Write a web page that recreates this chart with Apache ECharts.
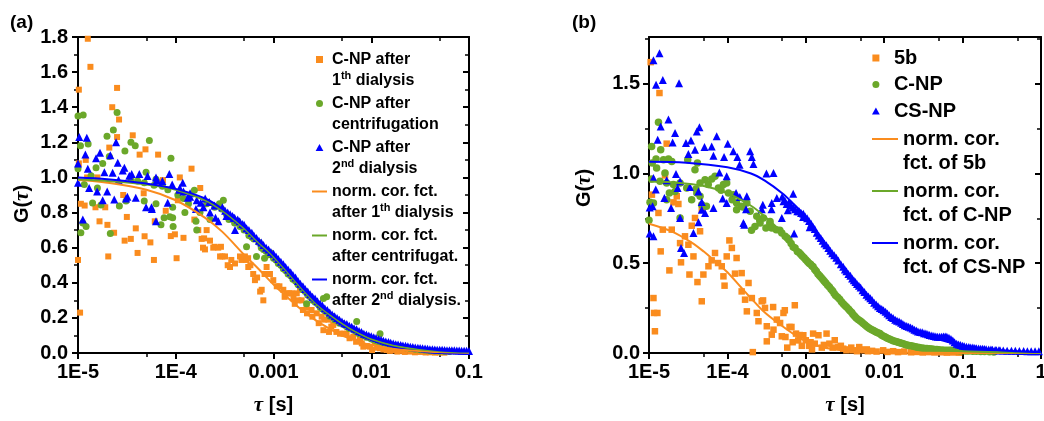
<!DOCTYPE html>
<html><head><meta charset="utf-8">
<script src="https://cdn.jsdelivr.net/npm/echarts@6/dist/echarts.min.js"></script>
<style>html,body{margin:0;padding:0;background:#fff}#c{width:1044px;height:421px}</style>
</head><body><div id="c"></div>
<script>
const FONT = 'Liberation Sans, Arial, sans-serif';
const ORANGE = '#FA8C1E', GREEN = '#6BA82A', BLUE = '#0000FF';

// ---- tick labels ----
const xTickLabelsA = ['1E-5', '1E-4', '0.001', '0.01', '0.1'];
const xTickLabelsB = ['1E-5', '1E-4', '0.001', '0.01', '0.1', '1'];
const xMinorTicksA = [5e-5, 5e-4, 5e-3, 5e-2];
const xMinorTicksB = [5e-5, 5e-4, 5e-3, 5e-2, 5e-1];
const yTicksB = [0, 0.5, 1.0, 1.5];
const yMinorTicksB = [0.25, 0.75, 1.25, 1.75];

// ---- series names / legend texts ----
const namesA = ['C-NP after 1th dialysis', 'C-NP after centrifugation', 'C-NP after 2nd dialysis',
  'norm. cor. fct. after 1th dialysis', 'norm. cor. fct. after centrifugat.', 'norm. cor. fct. after 2nd dialysis.'];
const legendTextA = [
  '{n|C-NP after}\n{n|1}{s|th}{n| dialysis}',
  '{n|C-NP after}\n{n|centrifugation}',
  '{n|C-NP after}\n{n|2}{s|nd}{n| dialysis}',
  '{n|norm. cor. fct.}\n{n|after 1}{s|th}{n| dialysis}',
  '{n|norm. cor. fct.}\n{n|after centrifugat.}',
  '{n|norm. cor. fct.}\n{n|after 2}{s|nd}{n| dialysis.}'];
const namesB = ['5b', 'C-NP', 'CS-NP', 'norm. cor. fct. of 5b', 'norm. cor. fct. of C-NP', 'norm. cor. fct. of CS-NP'];
const legendTextB = ['{n|5b}', '{n|C-NP}', '{n|CS-NP}', '{n|norm. cor.}\n{n|fct. of 5b}', '{n|norm. cor.}\n{n|fct. of C-NP}', '{n|norm. cor.}\n{n|fct. of CS-NP}'];

// ---- panel (a) data: [tau (s), G] ----
const dataA_1th = [
[1.0e-5,0.53],[1.02e-5,1.50],[1.02e-5,1.08],[1.05e-5,0.23],[1.07e-5,0.85],[1.17e-5,0.84],[1.2e-5,1.10],[1.24e-5,1.00],[1.26e-5,1.79],[1.34e-5,1.63],
[1.51e-5,0.83],[1.58e-5,1.00],[1.66e-5,0.75],[1.9e-5,0.83],[2.0e-5,0.73],[2.04e-5,0.55],[2.09e-5,1.17],[2.24e-5,1.40],[2.34e-5,0.685],[2.51e-5,1.51],
[2.51e-5,1.23],[2.63e-5,1.33],[2.9e-5,0.90],[3.0e-5,0.64],[3.16e-5,0.775],[3.47e-5,0.65],[3.63e-5,1.24],[3.9e-5,0.71],[4.07e-5,0.57],[4.27e-5,1.13],
[4.7e-5,0.91],[4.8e-5,0.665],[4.9e-5,1.16],[5.5e-5,0.63],[5.98e-5,0.53],[6.1e-5,0.75],[6.4e-5,0.975],[6.6e-5,1.13],[7.4e-5,0.985],[7.9e-5,0.81],
[8.9e-5,0.666],[9.8e-5,0.676],[1.02e-4,0.54],[1.05e-4,0.87],[1.1e-4,1.0],[1.2e-4,0.656],[1.45e-4,1.05],[1.55e-4,0.76],[1.7e-4,0.70],[1.78e-4,0.94],
[1.84e-4,0.65],[1.9e-4,0.60],[1.95e-4,0.653],[1.99e-4,0.59],[2.07e-4,0.70],[2.24e-4,0.64],[2.42e-4,0.60],[2.5e-4,0.605],[2.72e-4,0.60],[2.84e-4,0.55],
[2.9e-4,0.605],[3.0e-4,0.55],[3.19e-4,0.55],[3.4e-4,0.50],[3.59e-4,0.49],[3.7e-4,0.53],[4.04e-4,0.51],[4.54e-4,0.55],[4.7e-4,0.53],[5.1e-4,0.55],
[5.24e-4,0.53],[5.52e-4,0.49],[5.5e-4,0.54],[5.8e-4,0.50],[6.2e-4,0.45],[6.46e-4,0.415],[6.8e-4,0.43],[7.3e-4,0.35],[7.57e-4,0.36],[7.87e-4,0.30],
[8.1e-4,0.45],[8.5e-4,0.49],[9.2e-4,0.45],[9.95e-4,0.415],[1.08e-3,0.38],[1.15e-3,0.38],[1.26e-3,0.36],[1.3e-3,0.32],[1.36e-3,0.34],[1.45e-3,0.34],
[1.53e-3,0.34],[1.6e-3,0.31],[1.65e-3,0.28],[1.73e-3,0.34],[1.8e-3,0.30],[1.87e-3,0.36],[1.94e-3,0.30],[2.0e-3,0.245],[2.18e-3,0.26],[2.2e-3,0.226],
[2.45e-3,0.245],[2.5e-3,0.207],[2.77e-3,0.226],[2.9e-3,0.17],[3.11e-3,0.207],[3.24e-3,0.13],[3.3e-3,0.19],[3.64e-3,0.19],[3.7e-3,0.12],[3.9e-3,0.15],
[4.09e-3,0.16],[4.4e-3,0.12],[4.79e-3,0.11],[5.2e-3,0.11],[5.6e-3,0.11],[6.0e-3,0.084],[6.55e-3,0.093],[7.0e-3,0.064],[7.67e-3,0.074],[8.0e-3,0.055],
[8.3e-3,0.036],[9.0e-3,0.04],[9.7e-3,0.036],[1.02e-2,0.017],[1.09e-2,0.055],[1.15e-2,0.03],[1.23e-2,0.027],[1.33e-2,0.02],[1.44e-2,0.017],[1.55e-2,0.012],
[1.7e-2,0.015],[1.85e-2,0.008],[2.0e-2,0.012],[2.2e-2,0.006],[2.5e-2,0.008],[2.8e-2,0.004],[3.2e-2,0.006],[3.6e-2,0.003],[4.0e-2,0.004],[4.5e-2,0.002],
[5.0e-2,0.003],[5.6e-2,0.002]];

const dataA_centr = [
[1.0e-5,1.35],[1.0e-5,1.05],[1.06e-5,1.18],[1.07e-5,0.685],[1.12e-5,0.74],[1.13e-5,1.355],[1.16e-5,0.96],[1.21e-5,0.72],[1.27e-5,1.19],[1.36e-5,1.01],
[1.41e-5,0.855],[1.53e-5,1.055],[1.58e-5,0.94],[1.72e-5,0.843],[1.79e-5,1.08],[1.98e-5,1.235],[2.09e-5,1.12],[2.14e-5,0.68],[2.3e-5,1.27],[2.51e-5,1.37],
[2.65e-5,0.837],[3.02e-5,1.15],[3.1e-5,0.866],[3.48e-5,1.20],[3.48e-5,0.99],[3.85e-5,1.18],[4.07e-5,0.98],[4.76e-5,0.866],[4.76e-5,0.97],[4.97e-5,1.03],
[5.37e-5,1.21],[6.0e-5,0.955],[6.28e-5,0.85],[6.28e-5,0.99],[7.06e-5,0.73],[7.3e-5,0.95],[7.6e-5,0.77],[8.3e-5,0.93],[8.7e-5,0.776],[8.93e-5,1.11],
[9.3e-5,0.83],[9.3e-5,0.77],[9.4e-5,0.72],[1.05e-4,0.90],[1.2e-4,0.88],[1.24e-4,0.80],[1.35e-4,0.85],[1.55e-4,0.927],[1.61e-4,0.75],[1.64e-4,0.70],
[1.77e-4,0.80],[2.07e-4,0.85],[2.24e-4,0.76],[2.5e-4,0.83],[2.8e-4,0.85],[2.95e-4,0.82],[3.07e-4,0.87],[3.3e-4,0.79],[3.5e-4,0.76],[3.9e-4,0.76],
[4.0e-4,0.74],[4.3e-4,0.75],[4.54e-4,0.72],[5.0e-4,0.70],[5.3e-4,0.605],[5.6e-4,0.67],[6.0e-4,0.66],[6.3e-4,0.65],[6.7e-4,0.55],[7.1e-4,0.63],
[7.5e-4,0.60],[7.9e-4,0.59],[8.1e-4,0.54],[8.4e-4,0.58],[8.9e-4,0.56],[9.4e-4,0.57],[1.0e-3,0.54],[1.06e-3,0.53],[1.12e-3,0.51],[1.19e-3,0.50],
[1.26e-3,0.48],[1.33e-3,0.47],[1.41e-3,0.45],[1.5e-3,0.44],[1.58e-3,0.42],[1.68e-3,0.41],[1.78e-3,0.39],[1.88e-3,0.38],[2.0e-3,0.36],[2.11e-3,0.35],
[2.18e-3,0.28],[2.24e-3,0.33],[2.37e-3,0.32],[2.51e-3,0.30],[2.66e-3,0.29],[2.82e-3,0.28],[3.0e-3,0.26],[3.16e-3,0.25],[3.24e-3,0.31],[3.35e-3,0.24],
[3.5e-3,0.32],[3.55e-3,0.23],[3.76e-3,0.21],[3.98e-3,0.21],[4.22e-3,0.19],[4.47e-3,0.19],[4.73e-3,0.17],[5.01e-3,0.17],[5.31e-3,0.16],[5.62e-3,0.15],
[5.96e-3,0.14],[6.31e-3,0.14],[6.68e-3,0.13],[7.08e-3,0.12],[7.1e-3,0.18],[7.5e-3,0.11],[7.94e-3,0.11],[8.41e-3,0.10],[8.91e-3,0.09],[9.44e-3,0.09],
[1.0e-2,0.08],[1.06e-2,0.075],[1.12e-2,0.07],[1.19e-2,0.066],[1.23e-2,0.11],[1.26e-2,0.062],[1.33e-2,0.058],[1.41e-2,0.054],[1.5e-2,0.05],[1.58e-2,0.047],
[1.68e-2,0.044],[1.78e-2,0.04],[1.88e-2,0.037],[2.0e-2,0.035],[2.24e-2,0.03],[2.51e-2,0.026],[2.82e-2,0.022],[3.16e-2,0.018],[3.55e-2,0.015],[3.98e-2,0.013],
[4.47e-2,0.011],[5.01e-2,0.01],[5.62e-2,0.009],[6.31e-2,0.008]];

const dataA_2nd = [
[1.0e-5,1.08],[1.0e-5,0.97],[1.03e-5,1.23],[1.12e-5,0.76],[1.19e-5,1.13],[1.23e-5,1.226],[1.26e-5,1.05],[1.3e-5,0.94],[1.53e-5,1.11],[1.57e-5,0.92],
[1.68e-5,1.14],[1.79e-5,0.87],[1.86e-5,1.03],[1.99e-5,0.92],[2.14e-5,1.126],[2.26e-5,1.027],[2.35e-5,0.875],[2.45e-5,1.20],[2.55e-5,1.084],[2.6e-5,0.985],
[2.87e-5,1.04],[2.98e-5,1.055],[3.1e-5,0.88],[3.2e-5,0.89],[3.35e-5,1.01],[3.54e-5,1.02],[3.9e-5,0.885],[4.24e-5,1.02],[4.97e-5,0.83],[5.15e-5,1.008],
[5.65e-5,0.83],[5.7e-5,0.82],[6.28e-5,1.0],[6.28e-5,0.75],[6.4e-5,0.985],[7.3e-5,0.98],[8.27e-5,0.856],[8.59e-5,1.02],[9.2e-5,0.96],[1.09e-4,0.93],
[1.1e-4,0.94],[1.18e-4,0.97],[1.2e-4,0.92],[1.33e-4,0.885],[1.4e-4,0.89],[1.4e-4,0.91],[1.61e-4,0.82],[1.64e-4,0.87],[1.8e-4,0.856],[1.92e-4,0.83],
[2.0e-4,0.88],[2.2e-4,0.86],[2.24e-4,0.80],[2.5e-4,0.84],[2.55e-4,0.77],[2.73e-4,0.75],[3.0e-4,0.83],[3.2e-4,0.81],[3.3e-4,0.78],[3.4e-4,0.80],
[3.6e-4,0.79],[3.8e-4,0.78],[3.9e-4,0.77],[4.0e-4,0.77],[4.04e-4,0.70],[4.3e-4,0.76],[4.5e-4,0.75],[4.8e-4,0.735],[5.0e-4,0.73],[5.3e-4,0.71],
[5.6e-4,0.70],[6.0e-4,0.685],[6.3e-4,0.67],[6.7e-4,0.655],[7.1e-4,0.64],[7.5e-4,0.63],[7.9e-4,0.615],[8.4e-4,0.60],[8.9e-4,0.59],[9.4e-4,0.575],
[1.0e-3,0.565],[1.06e-3,0.55],[1.12e-3,0.535],[1.19e-3,0.52],[1.26e-3,0.505],[1.33e-3,0.49],[1.41e-3,0.475],[1.5e-3,0.46],[1.58e-3,0.445],[1.68e-3,0.43],
[1.78e-3,0.41],[1.88e-3,0.395],[2.0e-3,0.38],[2.11e-3,0.365],[2.24e-3,0.35],[2.37e-3,0.335],[2.51e-3,0.32],[2.66e-3,0.31],[2.82e-3,0.295],[3.0e-3,0.28],
[3.16e-3,0.27],[3.35e-3,0.255],[3.55e-3,0.245],[3.76e-3,0.23],[3.98e-3,0.22],[4.22e-3,0.21],[4.47e-3,0.20],[4.73e-3,0.19],[5.01e-3,0.18],[5.31e-3,0.17],
[5.62e-3,0.165],[5.96e-3,0.155],[6.31e-3,0.15],[6.68e-3,0.14],[7.08e-3,0.135],[7.5e-3,0.125],[7.94e-3,0.12],[8.41e-3,0.11],[8.91e-3,0.105],[9.44e-3,0.10],
[1.0e-2,0.095],[1.06e-2,0.09],[1.12e-2,0.085],[1.19e-2,0.08],[1.26e-2,0.075],[1.33e-2,0.07],[1.41e-2,0.066],[1.5e-2,0.062],[1.58e-2,0.058],[1.68e-2,0.054],
[1.78e-2,0.05],[1.88e-2,0.048],[2.0e-2,0.046],[2.11e-2,0.043],[2.24e-2,0.041],[2.37e-2,0.038],[2.51e-2,0.036],[2.66e-2,0.034],[2.82e-2,0.032],[3.0e-2,0.03],
[3.16e-2,0.028],[3.35e-2,0.027],[3.55e-2,0.025],[3.76e-2,0.024],[3.98e-2,0.022],[4.22e-2,0.021],[4.47e-2,0.02],[4.73e-2,0.019],[5.01e-2,0.018],[5.31e-2,0.018],
[5.62e-2,0.017],[5.96e-2,0.016],[6.31e-2,0.016],[6.68e-2,0.015],[7.08e-2,0.015],[7.5e-2,0.014],[7.94e-2,0.014],[8.41e-2,0.013],[8.91e-2,0.013],[9.44e-2,0.013],
[1.0e-1,0.012]];

const fitA_1th = [[1e-5,0.985],[2e-5,0.97],[5e-5,0.93],[1e-4,0.87],[2e-4,0.77],[3e-4,0.69],[5e-4,0.56],[7e-4,0.48],[1e-3,0.39],[1.5e-3,0.30],
[2e-3,0.24],[3e-3,0.17],[5e-3,0.10],[7e-3,0.07],[1e-2,0.045],[2e-2,0.018],[5e-2,0.005],[0.1,0.002]];
const fitA_centr = [[1e-5,0.99],[2e-5,0.98],[5e-5,0.96],[1e-4,0.93],[2e-4,0.87],[3e-4,0.81],[5e-4,0.71],[7e-4,0.63],[1e-3,0.55],[1.5e-3,0.44],
[2e-3,0.36],[3e-3,0.26],[5e-3,0.17],[7e-3,0.12],[1e-2,0.08],[2e-2,0.035],[5e-2,0.01],[0.1,0.004]];
const fitA_2nd = [[1e-5,1.0],[2e-5,0.99],[5e-5,0.965],[1e-4,0.935],[2e-4,0.88],[3e-4,0.82],[5e-4,0.72],[7e-4,0.64],[1e-3,0.56],[1.5e-3,0.45],
[2e-3,0.37],[3e-3,0.27],[5e-3,0.18],[7e-3,0.13],[1e-2,0.09],[2e-2,0.045],[5e-2,0.016],[0.1,0.008]];

// ---- panel (b) data ----
const dataB_5b = [
[1.05e-5,1.62],[1.09e-5,0.882],[1.14e-5,0.306],[1.16e-5,0.223],[1.19e-5,0.121],[1.28e-5,0.223],[1.32e-5,0.78],[1.36e-5,1.448],[1.41e-5,0.566],[1.5e-5,0.687],
[1.6e-5,0.989],[1.68e-5,1.166],[1.82e-5,0.46],[1.95e-5,0.687],[2.05e-5,0.839],[2.26e-5,0.873],[2.37e-5,0.83],[2.49e-5,0.612],[2.56e-5,0.505],[2.88e-5,0.65],
[3.18e-5,0.603],[3.28e-5,0.437],[3.51e-5,0.709],[3.69e-5,0.538],[3.86e-5,0.752],[4.15e-5,0.395],[4.48e-5,0.678],[4.71e-5,0.798],[4.71e-5,0.288],[4.94e-5,0.437],
[5.73e-5,0.483],[6.3e-5,0.516],[6.95e-5,0.557],[7.6e-5,0.501],[8.47e-5,0.483],[8.9e-5,0.427],[9.2e-5,0.375],[9.8e-5,0.538],[1.06e-4,0.627],[1.14e-4,0.585],
[1.25e-4,0.442],[1.31e-4,0.529],[1.52e-4,0.445],[1.52e-4,0.343],[1.68e-4,0.297],[1.77e-4,0.232],[1.86e-4,0.39],[2.05e-4,0.306],[2.11e-4,0.005],[2.37e-4,0.223],
[2.49e-4,0.177],[2.74e-4,0.288],[2.85e-4,0.293],[3.02e-4,0.251],[3.18e-4,0.149],[3.18e-4,0.065],[3.68e-4,0.102],[3.83e-4,0.256],[3.87e-4,0.13],[4.27e-4,0.186],
[4.7e-4,0.167],[4.94e-4,0.093],[5.19e-4,0.223],[5.4e-4,0.238],[5.5e-4,0.089],[5.8e-4,0.03],[6.2e-4,0.145],[6.56e-4,0.145],[6.8e-4,0.06],[7.24e-4,0.266],
[7.5e-4,0.108],[8.0e-4,0.07],[8.4e-4,0.10],[8.9e-4,0.04],[9.3e-4,0.099],[1.0e-3,0.071],[1.1e-3,0.04],[1.15e-3,0.06],[1.2e-3,0.02],[1.24e-3,0.108],
[1.3e-3,0.052],[1.45e-3,0.099],[1.6e-3,0.03],[1.7e-3,0.045],[1.84e-3,0.108],[2.0e-3,0.052],[2.2e-3,0.03],[2.34e-3,0.071],[2.6e-3,0.033],[2.8e-3,0.04],
[3.0e-3,0.024],[3.3e-3,0.015],[3.5e-3,0.02],[3.8e-3,0.03],[4.0e-3,0.015],[4.5e-3,0.01],[4.8e-3,0.033],[5.0e-3,0.02],[5.5e-3,0.015],[6.0e-3,0.02],
[6.2e-3,0.01],[7.0e-3,0.012],[8.0e-3,0.008],[9.7e-3,0.015],[1.1e-2,0.006],[1.3e-2,0.01],[1.5e-2,0.005],[1.8e-2,0.008],[2.2e-2,0.004],[2.6e-2,0.006],
[3.1e-2,0.003],[3.7e-2,0.005],[4.4e-2,0.003],[5.3e-2,0.004],[6.3e-2,0.002],[7.5e-2,0.003],[9.0e-2,0.002]];

const dataB_CNP = [
[1.0e-5,0.74],[1.03e-5,0.84],[1.08e-5,1.15],[1.08e-5,0.969],[1.1e-5,1.058],[1.14e-5,0.835],[1.23e-5,1.08],[1.25e-5,1.03],[1.32e-5,1.285],[1.38e-5,0.956],
[1.41e-5,1.132],[1.53e-5,1.077],[1.6e-5,1.002],[1.68e-5,0.947],[1.68e-5,0.854],[1.77e-5,1.08],[1.82e-5,0.891],[1.95e-5,1.067],[2.05e-5,0.938],[2.15e-5,0.90],
[2.49e-5,0.947],[2.49e-5,0.752],[3.03e-5,0.919],[3.12e-5,1.077],[3.5e-5,0.854],[3.86e-5,1.021],[3.98e-5,0.913],[4.07e-5,0.891],[4.15e-5,1.058],[4.48e-5,0.947],
[4.48e-5,0.873],[4.71e-5,0.826],[5.19e-5,0.965],[5.4e-5,0.817],[5.7e-5,0.938],[6.31e-5,0.969],[6.95e-5,0.984],[7.69e-5,0.919],[8.3e-5,0.906],[8.9e-5,0.938],
[9.8e-5,0.947],[1.03e-4,0.891],[1.15e-4,0.854],[1.19e-4,0.882],[1.31e-4,0.835],[1.31e-4,0.798],[1.52e-4,0.817],[1.58e-4,0.813],[1.77e-4,0.835],[1.95e-4,0.789],
[2.03e-4,0.683],[2.25e-4,0.705],[2.37e-4,0.761],[2.59e-4,0.739],[2.61e-4,0.724],[2.88e-4,0.752],[3.1e-4,0.696],[3.47e-4,0.72],[3.5e-4,0.733],[3.68e-4,0.696],
[4.2e-4,0.687],[4.66e-4,0.683],[4.94e-4,0.668],[5.45e-4,0.65],[5.8e-4,0.64],[6.1e-4,0.63],[6.5e-4,0.61],[6.9e-4,0.59],[7.3e-4,0.585],[7.8e-4,0.565],
[8.2e-4,0.56],[8.6e-4,0.55],[9.0e-4,0.54],[9.5e-4,0.53],[1.0e-3,0.52],[1.05e-3,0.51],[1.1e-3,0.50],[1.15e-3,0.495],[1.2e-3,0.485],[1.24e-3,0.48],
[1.3e-3,0.465],[1.36e-3,0.455],[1.43e-3,0.44],[1.5e-3,0.43],[1.57e-3,0.42],[1.65e-3,0.41],[1.72e-3,0.40],[1.8e-3,0.39],[1.9e-3,0.378],[2.0e-3,0.367],
[2.1e-3,0.355],[2.2e-3,0.345],[2.3e-3,0.332],[2.4e-3,0.32],[2.55e-3,0.31],[2.7e-3,0.30],[2.85e-3,0.285],[3.0e-3,0.275],[3.15e-3,0.265],[3.3e-3,0.256],
[3.5e-3,0.245],[3.65e-3,0.235],[3.85e-3,0.225],[4.0e-3,0.215],[4.2e-3,0.205],[4.4e-3,0.195],[4.65e-3,0.187],[4.9e-3,0.18],[5.15e-3,0.172],[5.4e-3,0.164],
[5.7e-3,0.156],[6.0e-3,0.148],[6.3e-3,0.141],[6.6e-3,0.135],[6.95e-3,0.13],[7.3e-3,0.125],[7.65e-3,0.12],[8.0e-3,0.115],[8.4e-3,0.111],[8.8e-3,0.108],
[9.2e-3,0.10],[9.7e-3,0.095],[1.02e-2,0.09],[1.07e-2,0.085],[1.12e-2,0.081],[1.18e-2,0.077],[1.24e-2,0.073],[1.3e-2,0.068],[1.37e-2,0.065],[1.44e-2,0.062],
[1.51e-2,0.06],[1.58e-2,0.057],[1.66e-2,0.055],[1.75e-2,0.052],[1.85e-2,0.048],[1.95e-2,0.045],[2.07e-2,0.042],[2.2e-2,0.04],[2.35e-2,0.037],[2.5e-2,0.035],
[2.65e-2,0.032],[2.8e-2,0.03],[3.0e-2,0.028],[3.2e-2,0.027],[3.5e-2,0.025],[3.8e-2,0.024],[4.1e-2,0.022],[4.4e-2,0.02],[4.7e-2,0.019],[5.0e-2,0.018],
[5.5e-2,0.017],[6.0e-2,0.016],[6.5e-2,0.016],[7.0e-2,0.015],[7.7e-2,0.015],[8.4e-2,0.014],[9.2e-2,0.013],[0.1,0.012],[0.11,0.011],[0.12,0.011],
[0.135,0.01],[0.15,0.01],[0.17,0.009],[0.19,0.008],[0.22,0.007],[0.25,0.006]];

const dataB_CSNP = [
[1.02e-5,0.81],[1.02e-5,0.665],[1.11e-5,0.817],[1.14e-5,1.63],[1.14e-5,0.974],[1.14e-5,0.65],[1.22e-5,0.91],[1.23e-5,1.494],[1.29e-5,1.188],[1.36e-5,1.67],
[1.41e-5,1.262],[1.5e-5,1.52],[1.57e-5,0.863],[1.68e-5,0.962],[1.77e-5,1.30],[1.91e-5,0.807],[2.0e-5,1.173],[2.15e-5,1.225],[2.21e-5,0.997],[2.32e-5,0.919],
[2.42e-5,1.503],[2.49e-5,0.956],[2.49e-5,0.752],[2.56e-5,0.585],[2.8e-5,0.557],[2.96e-5,1.17],[3.18e-5,1.108],[3.33e-5,0.924],[3.43e-5,1.183],[3.69e-5,0.668],
[3.86e-5,1.132],[4.07e-5,1.234],[4.27e-5,0.90],[4.27e-5,0.728],[4.4e-5,1.258],[4.71e-5,0.841],[4.71e-5,0.798],[5.1e-5,1.147],[5.19e-5,0.78],[6.3e-5,1.15],
[6.64e-5,1.099],[6.64e-5,0.807],[7.3e-5,1.207],[7.9e-5,1.006],[8.7e-5,0.86],[9.06e-5,1.091],[9.8e-5,0.984],[9.8e-5,0.835],[1.01e-4,1.166],[1.19e-4,1.123],
[1.29e-4,0.891],[1.34e-4,1.091],[1.43e-4,1.049],[1.44e-4,0.869],[1.6e-4,0.724],[1.64e-4,0.715],[1.73e-4,0.80],[1.77e-4,0.873],[1.95e-4,1.123],[2.05e-4,1.091],
[2.15e-4,1.052],[2.74e-4,0.80],[2.83e-4,0.826],[3.15e-4,1.0],[3.65e-4,0.80],[3.68e-4,0.835],[3.87e-4,1.002],[4.27e-4,0.863],[4.94e-4,0.752],[5.19e-4,0.845],
[5.0e-4,0.87],[5.4e-4,0.85],[5.7e-4,0.83],[5.9e-4,0.795],[6.1e-4,0.84],[6.5e-4,0.82],[6.9e-4,0.887],[6.9e-4,0.81],[7.1e-4,0.665],[7.3e-4,0.80],
[7.8e-4,0.79],[8.2e-4,0.79],[8.7e-4,0.78],[9.25e-4,0.757],[9.3e-4,0.776],[9.8e-4,0.76],[1.04e-3,0.75],[1.1e-3,0.735],[1.12e-3,0.70],[1.17e-3,0.72],
[1.23e-3,0.705],[1.3e-3,0.69],[1.38e-3,0.67],[1.46e-3,0.655],[1.55e-3,0.64],[1.64e-3,0.625],[1.73e-3,0.61],[1.83e-3,0.60],[1.94e-3,0.585],[2.05e-3,0.57],
[2.17e-3,0.555],[2.3e-3,0.545],[2.45e-3,0.53],[2.6e-3,0.515],[2.8e-3,0.495],[3.0e-3,0.48],[3.15e-3,0.465],[3.3e-3,0.455],[3.5e-3,0.44],[3.7e-3,0.43],
[3.9e-3,0.415],[4.1e-3,0.405],[4.3e-3,0.395],[4.5e-3,0.385],[4.75e-3,0.375],[5.0e-3,0.365],[5.3e-3,0.35],[5.6e-3,0.34],[5.95e-3,0.325],[6.3e-3,0.315],
[6.65e-3,0.305],[7.0e-3,0.295],[7.45e-3,0.28],[7.9e-3,0.27],[8.35e-3,0.26],[8.8e-3,0.25],[9.3e-3,0.245],[9.8e-3,0.238],[1.04e-2,0.23],[1.1e-2,0.22],
[1.16e-2,0.21],[1.23e-2,0.20],[1.3e-2,0.195],[1.38e-2,0.185],[1.46e-2,0.18],[1.55e-2,0.175],[1.64e-2,0.168],[1.73e-2,0.162],[1.83e-2,0.155],[1.94e-2,0.15],
[2.05e-2,0.146],[2.17e-2,0.142],[2.3e-2,0.136],[2.43e-2,0.13],[2.57e-2,0.125],[2.7e-2,0.12],[2.87e-2,0.117],[3.05e-2,0.115],[3.22e-2,0.11],[3.4e-2,0.108],
[3.6e-2,0.104],[3.8e-2,0.10],[4.05e-2,0.097],[4.3e-2,0.095],[4.55e-2,0.092],[4.8e-2,0.09],[5.1e-2,0.09],[5.4e-2,0.09],[5.7e-2,0.092],[6.0e-2,0.092],
[6.3e-2,0.09],[6.7e-2,0.085],[7.1e-2,0.078],[7.5e-2,0.07],[7.9e-2,0.06],[8.4e-2,0.052],[8.9e-2,0.048],[9.4e-2,0.045],[0.1,0.041],[0.105,0.038],
[0.112,0.035],[0.12,0.033],[0.127,0.031],[0.135,0.03],[0.143,0.028],[0.15,0.027],[0.16,0.025],[0.17,0.024],[0.18,0.023],[0.19,0.022],
[0.2,0.021],[0.215,0.02],[0.23,0.019],[0.24,0.018],[0.26,0.017],[0.27,0.016],[0.29,0.016],[0.3,0.015],[0.33,0.014],[0.37,0.013],
[0.42,0.012],[0.47,0.012],[0.53,0.011],[0.6,0.011],[0.67,0.01],[0.75,0.01],[0.84,0.01],[0.94,0.01]];

const fitB_5b = [[1e-5,0.72],[2e-5,0.675],[3.5e-5,0.615],[5e-5,0.565],[7e-5,0.51],[1e-4,0.45],[1.5e-4,0.365],[2e-4,0.305],[3e-4,0.225],[5e-4,0.15],
[7e-4,0.105],[1e-3,0.066],[1.5e-3,0.038],[2.2e-3,0.022],[4e-3,0.009],[1e-2,0.003],[0.1,0.0005],[1,0]];
const fitB_CNP = [[1e-5,0.955],[2e-5,0.95],[5e-5,0.93],[1e-4,0.89],[2e-4,0.82],[3e-4,0.76],[5e-4,0.67],[7e-4,0.595],[1e-3,0.525],[1.5e-3,0.43],
[2e-3,0.365],[3e-3,0.275],[5e-3,0.178],[7e-3,0.13],[1e-2,0.09],[1.5e-2,0.06],[2e-2,0.043],[4e-2,0.022],[0.1,0.01],[0.3,0.004],[1,0.002]];
const fitB_CSNP = [[1e-5,1.065],[3e-5,1.06],[1e-4,1.035],[2e-4,1.0],[3e-4,0.96],[5e-4,0.89],[7e-4,0.83],[1e-3,0.76],[1.5e-3,0.65],[2e-3,0.575],
[3e-3,0.48],[5e-3,0.36],[7e-3,0.295],[1e-2,0.235],[1.5e-2,0.18],[2e-2,0.145],[3e-2,0.11],[5e-2,0.075],[7e-2,0.058],[0.1,0.042],[0.2,0.022],[0.5,0.01],[1,0.005]];

// ---------------- chart ----------------
const chart = echarts.init(document.getElementById('c'), null, {renderer: 'canvas'});
const BLK = '#000';
const ICON_SQUARE = 'path://M0,0L1,0L1,1L0,1Z';
const ICON_CIRCLE = 'path://M0,0.5A0.5,0.5,0,1,0,1,0.5A0.5,0.5,0,1,0,0,0.5Z';
const ICON_TRI = 'path://M0.5,0L1,0.9L0,0.9Z';
const ICON_LINE_A = 'path://M0,0L15,0L15,2L0,2Z';
const ICON_LINE_B = 'path://M0,0L26,0L26,2L0,2Z';

const labelStyle = {color: BLK, fontFamily: FONT, fontWeight: 'bold', fontSize: 20};
function nameStyle(pad) {
  return {
    color: BLK, fontFamily: FONT, fontWeight: 'bold', fontSize: 20, padding: pad,
    rich: {
      t: {fontFamily: 'Liberation Serif, serif', fontStyle: 'italic', fontWeight: 'bold', fontSize: 21, color: BLK},
      b: {fontFamily: FONT, fontWeight: 'bold', fontSize: 20, color: BLK}
    }
  };
}
const axisLine = {show: true, onZero: false, lineStyle: {color: BLK, width: 2}};
const noLine = {show: false, onZero: false};

function xLog(grid, max, labels, pos, inside, withLabel) {
  return {
    gridIndex: grid, type: 'log', logBase: 10, min: 1e-5, max: max, position: pos,
    axisLine: axisLine, splitLine: {show: false},
    axisTick: {show: true, inside: inside, length: 6, lineStyle: {color: BLK, width: 2}},
    axisLabel: withLabel ? Object.assign({show: true, margin: 9, formatter: v => labels[Math.round(Math.log10(v)) + 5]}, labelStyle) : {show: false},
    name: withLabel ? '{t|τ} {b|[s]}' : '', nameLocation: 'middle', nameGap: 42, nameTextStyle: nameStyle(0)
  };
}
function xMinor(grid, maxExp, ticks, pos, inside) {
  return {
    gridIndex: grid, type: 'value', min: -5, max: maxExp, position: pos,
    axisLine: noLine, splitLine: {show: false}, axisLabel: {show: false},
    axisTick: {show: true, inside: inside, length: 4, customValues: ticks.map(Math.log10), lineStyle: {color: BLK, width: 1.5}}
  };
}
const richA = {n: {color: BLK, fontFamily: FONT, fontWeight: 'bold', fontSize: 16, lineHeight: 21},
               s: {color: BLK, fontFamily: FONT, fontWeight: 'bold', fontSize: 11, lineHeight: 12, verticalAlign: 'top'}};
const richB = {n: {color: BLK, fontFamily: FONT, fontWeight: 'bold', fontSize: 20, lineHeight: 24}};

const option = {
  animation: false,
  backgroundColor: '#fff',
  title: [
    {text: '(a)', left: 10, top: 13, padding: 0, textStyle: {color: BLK, fontFamily: FONT, fontWeight: 'bold', fontSize: 19}},
    {text: '(b)', left: 572, top: 13, padding: 0, textStyle: {color: BLK, fontFamily: FONT, fontWeight: 'bold', fontSize: 19}}
  ],
  grid: [
    {left: 78, top: 37, width: 391, height: 316, containLabel: false, outerBoundsMode: 'none'},
    {left: 649, top: 37, width: 392, height: 316, containLabel: false, outerBoundsMode: 'none'}
  ],
  xAxis: [
    xLog(0, 0.1, xTickLabelsA, 'bottom', false, true),
    xMinor(0, -1, xMinorTicksA, 'bottom', false),
    xLog(0, 0.1, xTickLabelsA, 'top', true, false),
    xMinor(0, -1, xMinorTicksA, 'top', true),
    xLog(1, 1, xTickLabelsB, 'bottom', false, true),
    xMinor(1, 0, xMinorTicksB, 'bottom', false),
    xLog(1, 1, xTickLabelsB, 'top', true, false),
    xMinor(1, 0, xMinorTicksB, 'top', true)
  ],
  yAxis: [
    {gridIndex: 0, type: 'value', min: 0, max: 1.8, interval: 0.2, position: 'left', axisLine: axisLine,
     splitLine: {show: false}, minorSplitLine: {show: false},
     axisTick: {show: true, length: 6, lineStyle: {color: BLK, width: 2}},
     minorTick: {show: true, splitNumber: 2, length: 4, lineStyle: {color: BLK, width: 1.5}},
     axisLabel: Object.assign({margin: 10, formatter: v => v.toFixed(1)}, labelStyle),
     name: '{b|G(}{t|τ}{b|)}', nameLocation: 'middle', nameRotate: 90, nameGap: 45, nameTextStyle: nameStyle([0, 18, 0, 0])},
    {gridIndex: 0, type: 'value', min: 0, max: 1.8, interval: 0.2, position: 'right', axisLine: axisLine,
     splitLine: {show: false}, axisLabel: {show: false},
     axisTick: {show: true, inside: true, length: 6, lineStyle: {color: BLK, width: 2}},
     minorTick: {show: true, splitNumber: 2, length: 4, lineStyle: {color: BLK, width: 1.5}}},
    {gridIndex: 1, type: 'value', min: 0, max: 1.76, position: 'left', axisLine: axisLine,
     splitLine: {show: false},
     axisTick: {show: true, length: 6, customValues: yTicksB, lineStyle: {color: BLK, width: 2}},
     axisLabel: Object.assign({margin: 9, customValues: yTicksB, formatter: v => v.toFixed(1)}, labelStyle),
     name: '{b|G(}{t|τ}{b|)}', nameLocation: 'middle', nameRotate: 90, nameGap: 54, nameTextStyle: nameStyle([0, 0, 0, 14])},
    {gridIndex: 1, type: 'value', min: 0, max: 1.76, position: 'right', axisLine: axisLine,
     splitLine: {show: false}, axisLabel: {show: false},
     axisTick: {show: true, inside: true, length: 6, customValues: yTicksB, lineStyle: {color: BLK, width: 2}}},
    {gridIndex: 1, type: 'value', min: 0, max: 1.76, position: 'left', axisLine: noLine,
     splitLine: {show: false}, axisLabel: {show: false},
     axisTick: {show: true, length: 4, customValues: yMinorTicksB, lineStyle: {color: BLK, width: 1.5}}},
    {gridIndex: 1, type: 'value', min: 0, max: 1.76, position: 'right', axisLine: noLine,
     splitLine: {show: false}, axisLabel: {show: false},
     axisTick: {show: true, inside: true, length: 4, customValues: yMinorTicksB, lineStyle: {color: BLK, width: 1.5}}}
  ],
  legend: [
    {left: 312, top: 28, orient: 'vertical', padding: 0, itemWidth: 15, itemHeight: 7, itemGap: -19,
     selectedMode: false, symbolKeepAspect: true,
     data: namesA.map((n, i) => ({name: n, icon: [ICON_SQUARE, ICON_CIRCLE, ICON_TRI, ICON_LINE_A, ICON_LINE_A, ICON_LINE_A][i]})),
     formatter: name => legendTextA[namesA.indexOf(name)],
     textStyle: {color: BLK, fontFamily: FONT, fontWeight: 'bold', fontSize: 16, lineHeight: 21,
       padding: [21, 0, 0, 0], backgroundColor: 'rgba(255,255,255,0)', rich: richA}},
    {left: 872, top: 46, orient: 'vertical', padding: 0, itemWidth: 26, itemHeight: 7, itemGap: 2.5,
     selectedMode: false, symbolKeepAspect: true,
     data: namesB.slice(0, 3).map((n, i) => ({name: n, icon: [ICON_SQUARE, ICON_CIRCLE, ICON_TRI][i]})),
     formatter: name => legendTextB[namesB.indexOf(name)],
     textStyle: {color: BLK, fontFamily: FONT, fontWeight: 'bold', fontSize: 20, lineHeight: 24,
       backgroundColor: 'rgba(255,255,255,0)', rich: richB}},
    {left: 872, top: 103, orient: 'vertical', padding: 0, itemWidth: 26, itemHeight: 7, itemGap: -20,
     selectedMode: false, symbolKeepAspect: true,
     data: namesB.slice(3).map(n => ({name: n, icon: ICON_LINE_B})),
     formatter: name => legendTextB[namesB.indexOf(name)],
     textStyle: {color: BLK, fontFamily: FONT, fontWeight: 'bold', fontSize: 20, lineHeight: 24,
       padding: [24, 0, 0, 0], backgroundColor: 'rgba(255,255,255,0)', rich: richB}}
  ],
  series: []
};

function sc(name, data, symbol, size, color, xi, yi) {
  return {type: 'scatter', name: name, data: data, symbol: symbol, symbolSize: size,
    itemStyle: {color: color, opacity: 1}, xAxisIndex: xi, yAxisIndex: yi, z: 2, emphasis: {disabled: true}};
}
function ln(name, data, color, xi, yi) {
  return {type: 'line', name: name, data: data, smooth: 0.35, symbol: 'none', showSymbol: false,
    lineStyle: {color: color, width: 2}, itemStyle: {color: color}, xAxisIndex: xi, yAxisIndex: yi, z: 3, emphasis: {disabled: true}};
}
option.series.push(
  sc(namesA[0], dataA_1th, 'rect', 6, ORANGE, 0, 0),
  sc(namesA[1], dataA_centr, 'circle', 7, GREEN, 0, 0),
  sc(namesA[2], dataA_2nd, 'triangle', 8, BLUE, 0, 0),
  ln(namesA[3], fitA_1th, ORANGE, 0, 0),
  ln(namesA[4], fitA_centr, GREEN, 0, 0),
  ln(namesA[5], fitA_2nd, BLUE, 0, 0),
  sc(namesB[0], dataB_5b, 'rect', 6.5, ORANGE, 4, 2),
  sc(namesB[1], dataB_CNP, 'circle', 7.5, GREEN, 4, 2),
  sc(namesB[2], dataB_CSNP, 'triangle', 8, BLUE, 4, 2),
  ln(namesB[3], fitB_5b, ORANGE, 4, 2),
  ln(namesB[4], fitB_CNP, GREEN, 4, 2),
  ln(namesB[5], fitB_CSNP, BLUE, 4, 2)
);
chart.setOption(option);
</script>
</body></html>
